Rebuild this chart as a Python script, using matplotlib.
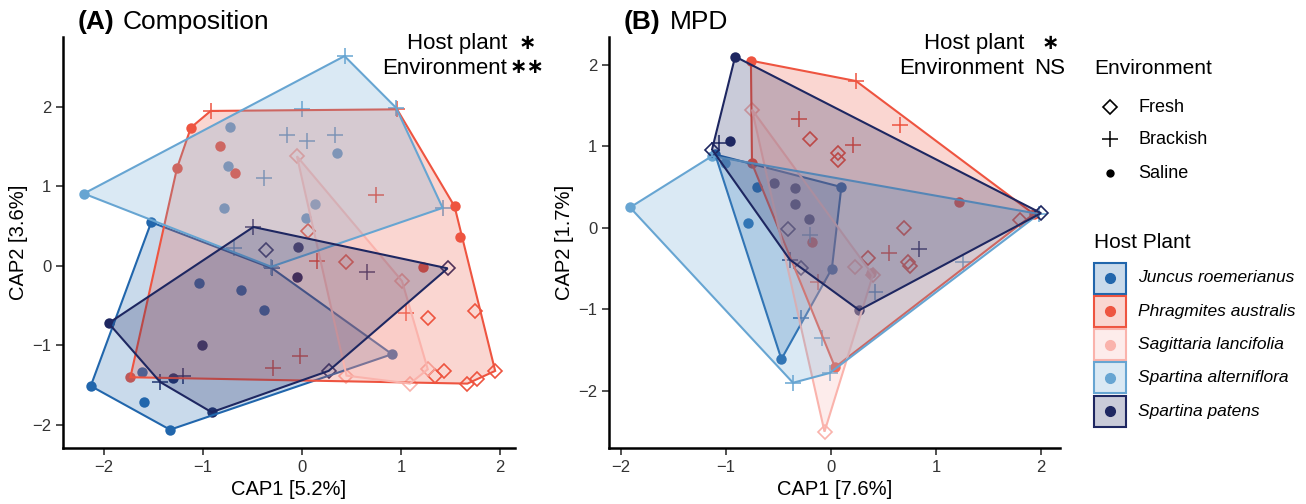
import numpy as np
import matplotlib
matplotlib.use("Agg")
import matplotlib.pyplot as plt
from matplotlib.patches import Polygon, Rectangle

plt.rcParams["font.family"] = ["Liberation Sans", "DejaVu Sans"]

W, H = 1306, 504

# ── Data ─────────────────────────────────────────────────────────────────────
PLANTS = ["Juncus roemerianus", "Phragmites australis", "Sagittaria lancifolia",
          "Spartina alterniflora", "Spartina patens"]
COLORS = ["#2166AC", "#EE5440", "#FAB3AC", "#67A5D2", "#1E2761"]
ENVS = ["Fresh", "Brackish", "Saline"]

# panel A: composition, (x, y) per plant per environment
compA_juncus = {"Fresh": [],
                "Brackish": [(-0.30, -0.03)],
                "Saline": [(-1.52, 0.55), (-2.13, -1.51), (-1.33, -2.06), (-1.59, -1.71),
                           (-1.04, -0.21), (-0.61, -0.30), (-0.38, -0.55), (-1.61, -1.33),
                           (0.91, -1.11)]}
compA_phrag = {"Fresh": [(0.06, 0.44), (0.45, 0.05), (1.27, -0.65), (1.75, -0.57), (1.43, -1.32),
                         (1.34, -1.38), (1.67, -1.48), (1.77, -1.42), (1.95, -1.32)],
               "Brackish": [(-0.92, 1.95), (0.96, 1.97), (0.75, 0.89), (0.15, 0.06), (1.05, -0.59),
                            (-0.29, -1.28), (-0.02, -1.13)],
               "Saline": [(-1.12, 1.74), (-1.26, 1.23), (-1.73, -1.40), (-0.83, 1.51), (-0.67, 1.17),
                          (1.54, 0.75), (1.60, 0.36), (1.22, -0.01)]}
compA_sagit = {"Fresh": [(-0.05, 1.38), (1.01, -0.19), (1.27, -1.30), (1.09, -1.48), (0.45, -1.38)],
               "Brackish": [], "Saline": []}
compA_alter = {"Fresh": [],
               "Brackish": [(0.43, 2.64), (0.95, 1.99), (1.42, 0.73), (-0.31, -0.01), (0.00, 1.97),
                            (-0.15, 1.65), (0.05, 1.57), (0.33, 1.65), (-0.38, 1.11), (-0.68, 0.23)],
               "Saline": [(-2.20, 0.91), (-0.73, 1.75), (-0.75, 1.26), (-0.79, 0.73), (0.35, 1.42),
                          (0.13, 0.78), (0.04, 0.60)]}
compA_patens = {"Fresh": [(1.47, -0.03), (0.27, -1.32), (-0.36, 0.20)],
                "Brackish": [(-0.49, 0.49), (-1.43, -1.46), (-1.20, -1.38), (0.66, -0.08)],
                "Saline": [(-1.95, -0.72), (-0.91, -1.84), (-1.01, -0.99), (-1.30, -1.41),
                           (-0.04, 0.24), (-0.05, -0.14)]}

# panel B: MPD
mpdB_juncus = {"Fresh": [],
               "Brackish": [(-0.28, -1.10)],
               "Saline": [(-1.10, 0.90), (-0.47, -1.61), (-0.79, 0.06), (-0.70, 0.50),
                          (0.10, 0.50), (0.01, -0.50)]}
mpdB_phrag = {"Fresh": [(-0.20, 1.09), (0.07, 0.92), (0.07, 0.83), (0.70, 0.00), (0.35, -0.37),
                        (0.73, -0.42), (0.75, -0.47), (1.80, 0.10)],
              "Brackish": [(0.24, 1.80), (0.66, 1.26), (-0.30, 1.33), (0.21, 1.02), (0.55, -0.31),
                           (-0.12, -0.67)],
              "Saline": [(-0.76, 2.05), (-0.75, 0.79), (-0.18, -0.18), (1.22, 0.32), (1.93, 0.17),
                         (0.04, -1.71)]}
mpdB_sagit = {"Fresh": [(-0.75, 1.45), (-0.06, -2.50), (0.23, -0.48), (0.40, -0.58)],
              "Brackish": [], "Saline": [(0.38, -0.55)]}
mpdB_alter = {"Fresh": [],
              "Brackish": [(1.98, 0.17), (-0.01, -1.78), (-0.36, -1.90), (-0.08, -1.35),
                           (1.26, -0.42), (0.42, -0.79), (-0.20, -0.09)],
              "Saline": [(-1.91, 0.25), (-1.13, 0.88), (-1.01, 0.80)]}
mpdB_patens = {"Fresh": [(2.00, 0.18), (-1.13, 0.96), (-0.41, -0.02), (-0.28, -0.49)],
               "Brackish": [(-1.06, 1.04), (-0.39, -0.39), (0.84, -0.26)],
               "Saline": [(-0.91, 2.10), (-0.96, 1.07), (0.27, -1.01), (-0.54, 0.55),
                          (-0.34, 0.49), (-0.34, 0.29), (-0.21, 0.11)]}

compA = [compA_juncus, compA_phrag, compA_sagit, compA_alter, compA_patens]
mpdB = [mpdB_juncus, mpdB_phrag, mpdB_sagit, mpdB_alter, mpdB_patens]

# significance labels per panel
SIG_A = ["\u2217", "\u2217\u2217"]
SIG_B = ["\u2217", "NS"]

MARKERS = {"Fresh": dict(marker="D", ms=7, mfc="none", mew=1.2),
           "Brackish": dict(marker="+", ms=12, mew=1.1),
           "Saline": dict(marker="o", ms=7.5, mew=0)}


def hull(pts):
    # monotone chain convex hull
    pts = sorted(set(pts))
    if len(pts) < 3:
        return pts
    def cross(o, a, b):
        return (a[0]-o[0])*(b[1]-o[1]) - (a[1]-o[1])*(b[0]-o[0])
    lo, up = [], []
    for p in pts:
        while len(lo) >= 2 and cross(lo[-2], lo[-1], p) <= 0:
            lo.pop()
        lo.append(p)
    for p in reversed(pts):
        while len(up) >= 2 and cross(up[-2], up[-1], p) <= 0:
            up.pop()
        up.append(p)
    return lo[:-1] + up[:-1]


def px_axes(fig, x0, y0, x1, y1):
    return fig.add_axes([x0 / W, 1 - y1 / H, (x1 - x0) / W, (y1 - y0) / H])


def draw_panel(ax, data, xlim, ylim, xlabel, ylabel):
    for groups, col in zip(data, COLORS):
        for env in ENVS:
            p = groups[env]
            if not p:
                continue
            xs, ys = zip(*p)
            kw = dict(MARKERS[env])
            if env == "Saline":
                kw["mfc"] = col
            ax.plot(xs, ys, ls="none", color=col, zorder=2, **kw)
    for groups, col in zip(data, COLORS):
        allp = groups["Fresh"] + groups["Brackish"] + groups["Saline"]
        hp = hull(allp)
        ax.add_patch(Polygon(hp, closed=True, facecolor=col, alpha=0.24, edgecolor="none", zorder=3))
        ax.add_patch(Polygon(hp, closed=True, facecolor="none", edgecolor=col, lw=1.5, zorder=3))
    ax.set_xlim(*xlim); ax.set_ylim(*ylim)
    ax.set_xticks([-2, -1, 0, 1, 2]); ax.set_yticks([-2, -1, 0, 1, 2])
    ax.set_xticklabels(["\u22122", "\u22121", "0", "1", "2"])
    ax.set_yticklabels(["\u22122", "\u22121", "0", "1", "2"])
    for s in ["top", "right"]:
        ax.spines[s].set_visible(False)
    for s in ["left", "bottom"]:
        ax.spines[s].set_linewidth(1.8)
    ax.tick_params(length=5, width=1.2, color="#333333", labelsize=12, labelcolor="#333333")
    ax.set_xlabel(xlabel, fontsize=14.5, labelpad=4)
    ax.set_ylabel(ylabel, fontsize=14.5, labelpad=3)


fig = plt.figure(figsize=(W / 100, H / 100), dpi=100)

axA = px_axes(fig, 63, 37, 515, 448)
draw_panel(axA, compA, (-2.41, 2.15), (-2.29, 2.88), "CAP1 [5.2%]", "CAP2 [3.6%]")
axB = px_axes(fig, 609, 37, 1060, 448)
draw_panel(axB, mpdB, (-2.11, 2.18), (-2.70, 2.34), "CAP1 [7.6%]", "CAP2 [1.7%]")

# titles
fig.text(78 / W, 1 - 22 / H, "(A)", fontsize=19, fontweight="bold", va="center")
fig.text(123 / W, 1 - 22 / H, "Composition", fontsize=19, va="center")
fig.text(624 / W, 1 - 22 / H, "(B)", fontsize=19, fontweight="bold", va="center")
fig.text(670 / W, 1 - 22 / H, "MPD", fontsize=19, va="center")

# test annotations
for xr, xs, sym in [(507, 527, SIG_A), (1024, 1050, SIG_B)]:
    fig.text(xr / W, 1 - 44 / H, "Host plant", fontsize=16, ha="right", va="center")
    fig.text(xr / W, 1 - 68 / H, "Environment", fontsize=16, ha="right", va="center")
    for s, yy in zip(sym, [44, 68]):
        if s == "NS":
            fig.text(xs / W, 1 - yy / H, s, fontsize=16, ha="center", va="center")
        else:
            fig.text(xs / W, 1 - (yy - 1) / H, s, fontsize=15, ha="center", va="center",
                     family=["DejaVu Sans"], fontweight="bold")

# legends
lg = fig.add_axes([0, 0, 1, 1]); lg.set_xlim(0, W); lg.set_ylim(H, 0); lg.axis("off")
lg.text(1094, 69, "Environment", fontsize=15, va="center")
for env, yy in zip(ENVS, [107, 139, 173]):
    kw = dict(MARKERS[env])
    if env == "Saline":
        kw["mfc"] = "black"; kw["ms"] = 6
    lg.plot([1110], [yy], ls="none", color="black", **kw)
    lg.text(1138, yy, env, fontsize=13, va="center")
lg.text(1094, 242, "Host Plant", fontsize=15, va="center")
for i, (name, col) in enumerate(zip(PLANTS, COLORS)):
    yc = 278 + i * 33.3
    lg.add_patch(Rectangle((1094, yc - 15.5), 32, 31, facecolor=col, alpha=0.24, edgecolor="none"))
    lg.add_patch(Rectangle((1094, yc - 15.5), 32, 31, facecolor="none", edgecolor=col, lw=1.5))
    lg.plot([1110], [yc], "o", color=col, ms=7)
    lg.text(1138, yc, name, fontsize=12.5, style="italic", va="center")

fig.savefig("out.png", dpi=100)
